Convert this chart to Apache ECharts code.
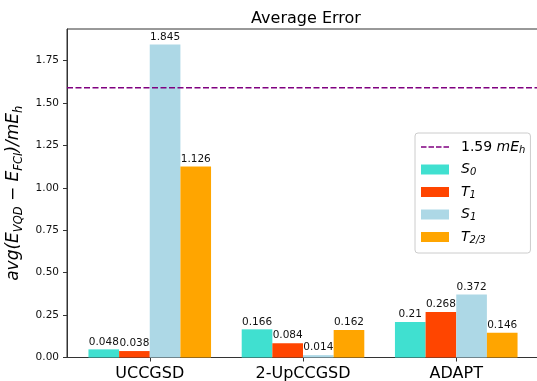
<!DOCTYPE html>
<html>
<head>
<meta charset="utf-8">
<script src="https://cdn.jsdelivr.net/npm/echarts@6/dist/echarts.min.js"></script>
<style>
  html, body { margin: 0; padding: 0; background: #fff; }
  #chart { width: 537px; height: 381px; }
</style>
</head>
<body>
<div id="chart"></div>
<script>
// Methods on the x axis
const categories = ['UCCGSD', '2-UpCCGSD', 'ADAPT'];

// Average error per state, one array per state
const s0Values  = [0.048, 0.166, 0.21];
const t1Values  = [0.038, 0.084, 0.268];
const s1Values  = [1.845, 0.014, 0.372];
const t23Values = [1.126, 0.162, 0.146];

// Reference threshold (mE_h)
const thresholdValue = 1.59;

// Y tick labels
const yTicks = [0, 0.25, 0.5, 0.75, 1.0, 1.25, 1.5, 1.75];

const FONT = 'DejaVu Sans';
const BAR_W = 0.2;

const stateSeries = [
  { name: 'S0',  color: '#40E0D0', values: s0Values,  offset: -0.3 },
  { name: 'T1',  color: '#FF4500', values: t1Values,  offset: -0.1 },
  { name: 'S1',  color: '#ADD8E6', values: s1Values,  offset: 0.1 },
  { name: 'T23', color: '#FFA500', values: t23Values, offset: 0.3 }
];

function barRenderer(offset) {
  return function (params, api) {
    const x = api.value(0) + offset;
    const y = api.value(1);
    const p0 = api.coord([x - BAR_W / 2, y]);
    const p1 = api.coord([x + BAR_W / 2, 0]);
    return {
      type: 'group',
      children: [
        {
          type: 'rect',
          shape: { x: p0[0], y: p0[1], width: p1[0] - p0[0], height: p1[1] - p0[1] },
          style: { fill: api.visual('color') }
        },
        {
          type: 'text',
          style: {
            text: String(y),
            x: (p0[0] + p1[0]) / 2,
            y: p0[1] - 2,
            align: 'center',
            verticalAlign: 'bottom',
            font: '10.5px "DejaVu Sans"',
            fill: '#111'
          }
        }
      ]
    };
  };
}

const series = stateSeries.map(s => ({
  name: s.name,
  type: 'custom',
  itemStyle: { color: s.color },
  encode: { x: 0, y: 1 },
  data: s.values.map((v, i) => [i, v]),
  renderItem: barRenderer(s.offset),
  z: 2
}));

series.unshift({
  name: 'threshold',
  type: 'line',
  symbol: 'none',
  data: [[-0.54, thresholdValue], [2.54, thresholdValue]],
  lineStyle: { color: '#800080', width: 1.5, type: [6, 2.5] },
  itemStyle: { color: '#800080' },
  z: 3,
  silent: true
});

// Dashed legend key for the threshold line
const dashIcon = 'path://M0,0h5.5v1.5h-5.5z M7.5,0h5.5v1.5h-5.5z M15,0h5.5v1.5h-5.5z M22.5,0h5.5v1.5h-5.5z';

const legendText = {
  threshold: '{f|1.59 }{i|mE}{sub|h}',
  S0: '{fi|S}{sub|0}',
  T1: '{fi|T}{sub|1}',
  S1: '{fi|S}{sub|1}',
  T23: '{fi|T}{sub|2/3}'
};

const chart = echarts.init(document.getElementById('chart'), null, { renderer: 'canvas' });
chart.setOption({
  animation: false,
  backgroundColor: '#fff',
  textStyle: { fontFamily: FONT },
  title: {
    text: 'Average Error',
    left: 301,
    textAlign: 'center',
    top: 6,
    textStyle: { fontFamily: FONT, fontSize: 16, fontWeight: 'normal', color: '#000' }
  },
  grid: {
    left: 67, right: -2, top: 29, bottom: 23.5,
    outerBoundsMode: 'none',
    containLabel: false,
    show: true, borderColor: '#333', borderWidth: 1, backgroundColor: 'transparent'
  },
  xAxis: {
    type: 'value',
    min: -0.54,
    max: 2.54,
    splitLine: { show: false },
    axisLine: { show: true, onZero: false, lineStyle: { color: '#333', width: 1 } },
    axisTick: { show: true, length: 4, inside: false, customValues: [0, 1, 2], lineStyle: { color: '#333' } },
    axisLabel: {
      customValues: [0, 1, 2],
      formatter: v => categories[Math.round(v)],
      fontFamily: FONT, fontSize: 16, color: '#000', margin: 8
    }
  },
  yAxis: {
    type: 'value',
    min: 0,
    max: 1.937,
    splitLine: { show: false },
    axisLine: { show: true, onZero: false, lineStyle: { color: '#333', width: 1 } },
    axisTick: { show: true, length: 4, inside: false, customValues: yTicks, lineStyle: { color: '#333' } },
    axisLabel: {
      customValues: yTicks,
      formatter: v => v.toFixed(2),
      fontFamily: FONT, fontSize: 10.5, color: '#111', margin: 8
    },
    name: '{i|avg(E}{sub|VQD}{n| − }{i|E}{sub|FCI}{i|)/mE}{sub|h}',
    nameLocation: 'middle',
    nameRotate: 90,
    nameGap: 38,
    nameTextStyle: {
      rich: {
        i: { fontFamily: FONT, fontStyle: 'italic', fontSize: 17, lineHeight: 22, color: '#000' },
        n: { fontFamily: FONT, fontSize: 17, lineHeight: 22, color: '#000' },
        sub: { fontFamily: FONT, fontStyle: 'italic', fontSize: 11.5, lineHeight: 11, verticalAlign: 'bottom', color: '#000' }
      }
    }
  },
  legend: {
    orient: 'vertical',
    left: 415,
    top: 133,
    itemWidth: 28,
    itemHeight: 10,
    itemGap: 7.5,
    padding: [7, 5, 8, 6],
    backgroundColor: 'rgba(255,255,255,0.8)',
    borderColor: '#ccc',
    borderWidth: 1,
    borderRadius: 3,
    data: [
      { name: 'threshold', icon: dashIcon },
      { name: 'S0', icon: 'rect' },
      { name: 'T1', icon: 'rect' },
      { name: 'S1', icon: 'rect' },
      { name: 'T23', icon: 'rect' }
    ],
    formatter: name => legendText[name],
    textStyle: {
      rich: {
        f: { fontFamily: FONT, fontSize: 14, lineHeight: 16, color: '#000', padding: [0, 0, 0, 7] },
        fi: { fontFamily: FONT, fontStyle: 'italic', fontSize: 14, lineHeight: 16, color: '#000', padding: [0, 0, 0, 7] },
        i: { fontFamily: FONT, fontStyle: 'italic', fontSize: 14, lineHeight: 16, color: '#000' },
        sub: { fontFamily: FONT, fontStyle: 'italic', fontSize: 10, lineHeight: 10, verticalAlign: 'bottom', color: '#000' }
      }
    }
  },
  series: series
});
</script>
</body>
</html>
